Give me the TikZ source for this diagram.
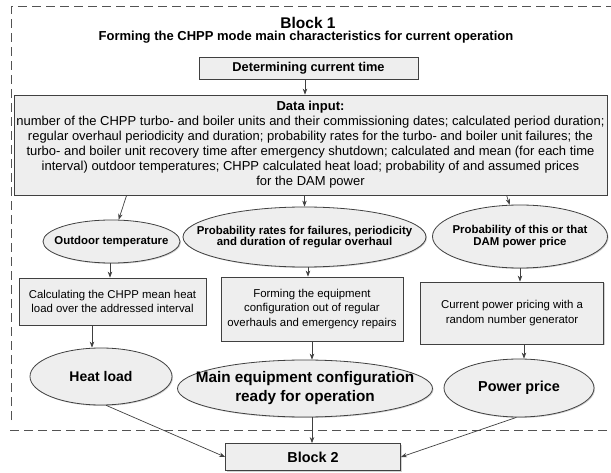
\documentclass[tikz,border=0pt]{standalone}
\usepackage{fontspec}
\setmainfont{Liberation Sans}
\usetikzlibrary{arrows.meta,shapes.geometric,shadows}
\definecolor{boxfill}{HTML}{EEEEEE}
\definecolor{linec}{HTML}{404040}
\begin{document}
\begin{tikzpicture}[x=1pt,y=-1pt,
  boxs/.style={draw=linec,line width=0.8pt,fill=boxfill,rectangle,inner sep=2pt,align=center,
     drop shadow={shadow xshift=1pt,shadow yshift=-1pt,opacity=0.35}},
  ells/.style={draw=linec,line width=0.8pt,fill=boxfill,ellipse,inner sep=0pt,
     drop shadow={shadow xshift=1pt,shadow yshift=-1pt,opacity=0.35}},
  smalltxt/.style={font=\fontsize{11.4}{11.5}\selectfont\bfseries,align=center,inner sep=0pt},
  bigtxt/.style={font=\fontsize{15.3}{19}\selectfont\bfseries,align=center,inner sep=0pt},
  boxtxt/.style={font=\fontsize{11.4}{14.5}\selectfont},
  arr/.style={draw=linec,line width=0.7pt,-{Stealth[length=6pt,width=4.5pt]}},
  frame/.style={draw=linec!90,line width=1pt,dash pattern=on 9pt off 5pt}
]
\useasboundingbox (0,0) rectangle (611,473);
\fill[white] (0,0) rectangle (611,473);

% dashed frame of Block 1
\coordinate (f1) at (11,420);
\coordinate (f2) at (11,7);
\coordinate (f3) at (611,7);
\coordinate (f4) at (10,430);
\coordinate (f5) at (611,430);
\draw[frame] (f1) -- (f2) -- (f3);
\draw[frame] (f4) -- (f5);

% titles
\node[font=\fontsize{15.5}{17}\selectfont\bfseries,inner sep=0pt] (blk1) at (308,22.5) {Block 1};
\node[font=\fontsize{13}{15}\selectfont\bfseries,inner sep=0pt] (blk1sub) at (306,37.5) {Forming the CHPP mode main characteristics for current operation};

% top boxes
\node[boxs,minimum width=219,minimum height=22,font=\fontsize{12.8}{14}\selectfont\bfseries] (det) at (308.5,68) {Determining current time};
\node[boxs,minimum width=593,minimum height=100,font=\fontsize{13}{15}\selectfont] (data) at (310.5,145)
 {\textbf{Data input:}\\
 number of the CHPP turbo- and boiler units and their commissioning dates; calculated period duration;\\
 regular overhaul periodicity and duration; probability rates for the turbo- and boiler unit failures; the\\
 turbo- and boiler unit recovery time after emergency shutdown; calculated and mean (for each time\\
 interval) outdoor temperatures; CHPP calculated heat load; probability of and assumed prices\\
 for the DAM power};

% upper ellipses
\node[ells,minimum width=137,minimum height=43] (outdoor) at (111.5,241.5) {};
\node[smalltxt] (outdoorT) at (outdoor) {Outdoor temperature};
\node[ells,minimum width=243,minimum height=60] (probfail) at (304.5,237) {};
\node[smalltxt] (probfailT) at (probfail) {Probability rates for failures, periodicity\\and duration of regular overhaul};
\node[ells,minimum width=175,minimum height=63] (probprice) at (520,236.5) {};
\node[smalltxt] (probpriceT) at (probprice) {Probability of this or that\\DAM power price};

% process boxes
\node[boxs,boxtxt,minimum width=187,minimum height=47] (calc) at (112.5,301.5) {Calculating the CHPP mean heat\\load over the addressed interval};
\node[boxs,boxtxt,minimum width=182,minimum height=64] (form) at (312,309) {Forming the equipment\\configuration out of regular\\overhauls and emergency repairs};
\node[boxs,boxtxt,minimum width=183,minimum height=62] (curr) at (512,313) {Current power pricing with a\\random number generator};

% lower ellipses
\node[ells,minimum width=142,minimum height=57] (heat) at (101,376.5) {};
\node[bigtxt,font=\fontsize{14}{16}\selectfont\bfseries] (heatT) at (heat) {Heat load};
\node[ells,minimum width=255,minimum height=57] (main) at (305,388.5) {};
\node[bigtxt] (mainT) at (main) {Main equipment configuration\\ready for operation};
\node[ells,minimum width=150,minimum height=58] (power) at (519,388) {};
\node[bigtxt,font=\fontsize{14.4}{16}\selectfont\bfseries] (powerT) at (power) {Power price};

% block 2
\node[boxs,minimum width=175,minimum height=27,font=\fontsize{14.4}{16}\selectfont\bfseries] (block2) at (313,457) {Block 2};

% connectors
\draw[arr] (det.south -| 305,0) -- (data.north -| 305,0);
\path (data.south west) ++(113,0) coordinate (dL);
\path (data.south west) ++(493,0) coordinate (dR);
\draw[arr] (dL) -- (outdoor);
\draw[arr] (data.south -| probfail.north) -- (probfail.north);
\draw[arr] (dR) -- (probprice);
\draw[arr] (outdoor.south -| 110,0) -- (calc.north -| 110,0);
\draw[arr] (probfail.south -| 308,0) -- (form.north -| 308,0);
\draw[arr] (probprice.south) -- (curr.north -| probprice.south);
\draw[arr] (calc.south -| 92,0) -- (heat.north -| 92,0);
\draw[arr] (form.south -| 312,0) -- (main.north -| 312,0);
\draw[arr] (curr.south -| 524,0) -- (power.north -| 524,0);
\draw[arr] (heat.-80) -- (block2.west);
\draw[arr] (main.south -| 312,0) -- (block2.north -| 312,0);
\draw[arr] (power.-95) -- (block2.east);
\end{tikzpicture}
\end{document}
